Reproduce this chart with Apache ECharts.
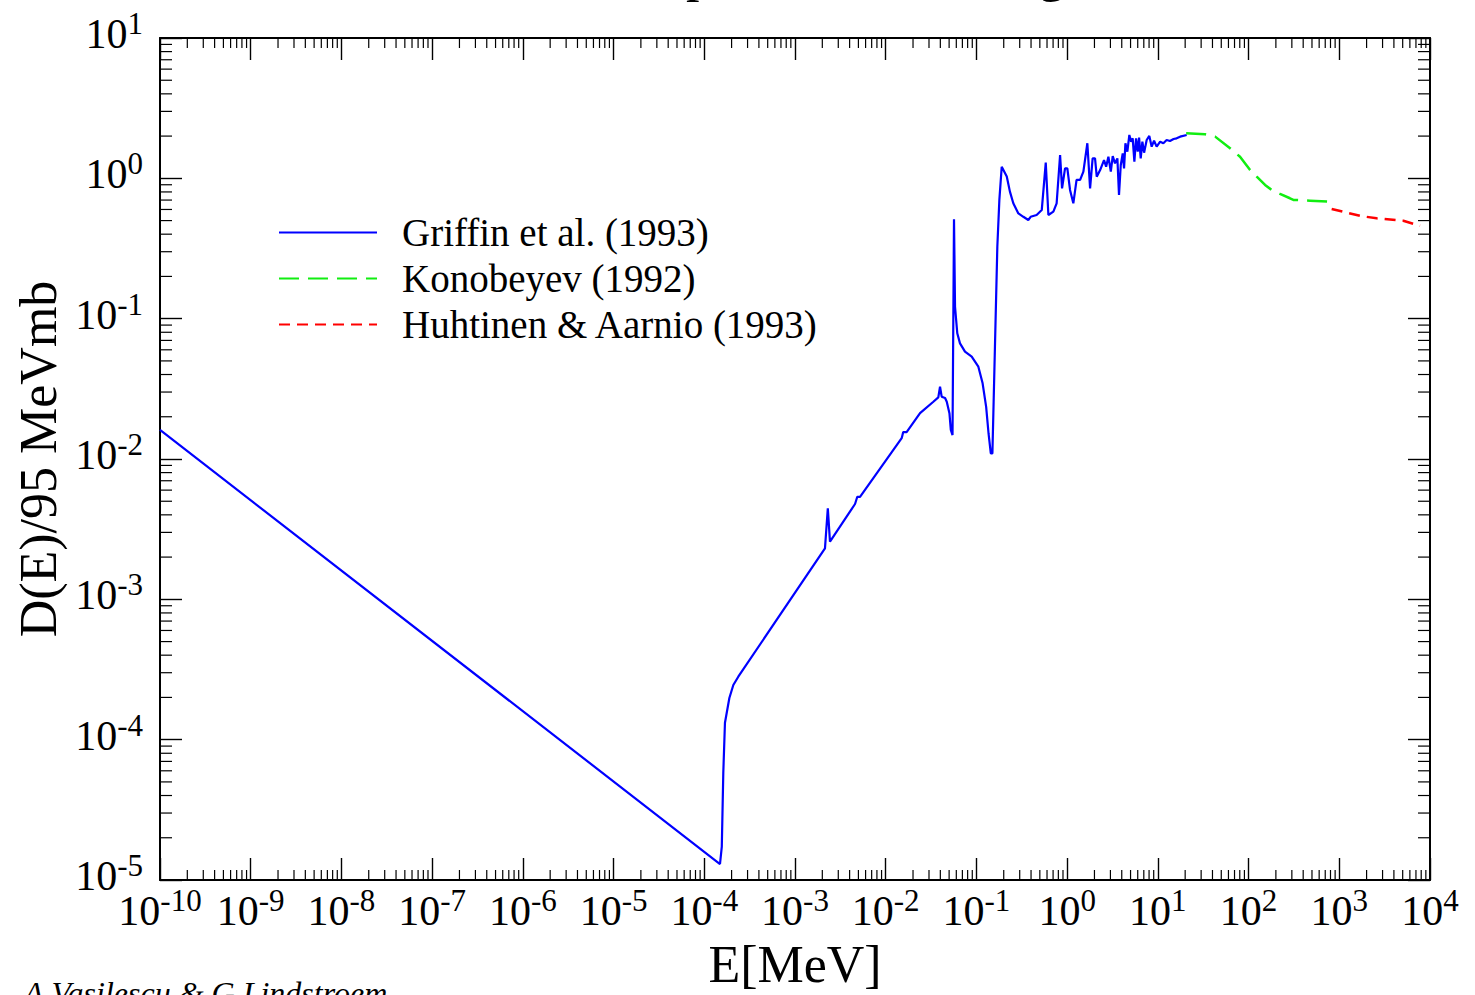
<!DOCTYPE html>
<html>
<head>
<meta charset="utf-8">
<script src="https://cdn.jsdelivr.net/npm/echarts/dist/echarts.min.js"></script>
<style>
html,body{margin:0;padding:0;background:#fff;}
#chart{width:1475px;height:995px;}
</style>
</head>
<body>
<div id="chart"></div>
<script>
// ---- data ----
const xTickExponents = [-10, -9, -8, -7, -6, -5, -4, -3, -2, -1, 0, 1, 2, 3, 4];
const yTickExponents = [-5, -4, -3, -2, -1, 0, 1];

const griffinE = [1e-10, 1.49e-4, 1.56e-4, 1.62e-4, 1.69e-4, 1.89e-4, 2.09e-4, 2.37e-4, 2.14e-3, 2.30e-3,
  2.43e-3, 4.59e-3, 4.86e-3, 5.21e-3, 0.0150, 0.0156, 0.0170, 0.0239, 0.0335, 0.0380,
  0.0397, 0.0414, 0.0451, 0.0471, 0.0504, 0.0522, 0.0545, 0.0566, 0.0581, 0.0615,
  0.0659, 0.0748, 0.0887, 0.105, 0.117, 0.128, 0.136, 0.144, 0.150, 0.160,
  0.170, 0.179, 0.190, 0.216, 0.234, 0.255, 0.290, 0.329, 0.373, 0.396,
  0.461, 0.525, 0.581, 0.621, 0.705, 0.766, 0.836, 0.879, 0.948, 1.005,
  1.076, 1.17, 1.27, 1.39, 1.51, 1.67, 1.79, 1.91, 2.03, 2.12,
  2.31, 2.55, 2.69, 2.85, 3.03, 3.18, 3.37, 3.58, 3.73, 3.90,
  4.10, 4.24, 4.39, 4.61, 4.85, 5.07, 5.28, 5.51, 5.75, 6.00,
  6.21, 6.47, 6.75, 7.05, 7.53, 8.05, 8.55, 9.08, 9.70, 10.6,
  11.5, 12.5, 13.6, 14.9, 16.1, 17.6, 20.8];
const griffinD = [0.0161, 1.30e-5, 1.73e-5, 5.78e-5, 1.32e-4, 1.98e-4, 2.45e-4, 2.81e-4, 2.31e-3, 4.46e-3,
  2.58e-3, 4.78e-3, 5.38e-3, 5.38e-3, 0.01406, 0.01556, 0.01556, 0.0212, 0.0256, 0.0275,
  0.0327, 0.0278, 0.0272, 0.0256, 0.0212, 0.0161, 0.0148, 0.511, 0.1216, 0.0787,
  0.0667, 0.0582, 0.0536, 0.0455, 0.0346, 0.0235, 0.0152, 0.01096, 0.01096, 0.0631,
  0.326, 0.702, 1.21, 1.03, 0.804, 0.664, 0.562, 0.532, 0.505, 0.532,
  0.548, 0.594, 1.294, 0.548, 0.579, 0.664, 1.466, 0.849, 1.178, 1.178,
  0.826, 0.664, 0.975, 0.975, 1.117, 1.778, 0.849, 1.387, 1.387, 1.028,
  1.146, 1.349, 1.211, 1.426, 1.117, 1.442, 1.279, 1.387, 0.760, 1.245,
  1.507, 1.178, 1.778, 1.549, 2.037, 1.824, 1.928, 1.315, 1.928, 1.549,
  1.950, 1.387, 1.824, 1.524, 1.875, 2.004, 1.682, 1.854, 1.682, 1.824,
  1.778, 1.875, 1.845, 1.905, 1.928, 1.982, 2.037];

const konobeyevE = [20.5, 33.1, 42.8, 62.5, 80.5, 104, 123, 152, 180, 222, 286, 312, 476, 759];
const konobeyevD = [2.094, 2.061, 1.982, 1.637, 1.426, 1.146, 1.028, 0.897, 0.826, 0.774, 0.721, 0.702, 0.693, 0.682];

const huhtinenE = [824, 1694, 2582, 5082, 7762];
const huhtinenD = [0.605, 0.540, 0.519, 0.499, 0.459];

const seriesNames = ['Griffin et al. (1993)', 'Konobeyev (1992)', 'Huhtinen & Aarnio (1993)'];

// minor tick positions (2..9 x 10^k) for the log axes
const xMinor = [], yMinor = [];
for (let k = xTickExponents[0]; k < xTickExponents[xTickExponents.length - 1]; k++)
  for (let m = 2; m <= 9; m++) xMinor.push([m * Math.pow(10, k), 1]);
for (let k = yTickExponents[0]; k < yTickExponents[yTickExponents.length - 1]; k++)
  for (let m = 2; m <= 9; m++) yMinor.push([1, m * Math.pow(10, k)]);

const zip = (a, b) => a.map((v, i) => [v, b[i]]);

const FONT = '"Liberation Serif", "Times New Roman", serif';
const supRich = {
  b: { fontFamily: FONT, fontSize: 42, lineHeight: 52, color: '#000' },
  s: { fontFamily: FONT, fontSize: 31, lineHeight: 31, verticalAlign: 'top', color: '#000' }
};
const powFmt = v => '{b|10}{s|' + v + '}';

function minorXTick(params, api) {
  const p = api.coord([api.value(0), api.value(1)]);
  const cs = params.coordSys;
  const x = p[0], yb = cs.y + cs.height, yt = cs.y;
  const st = { stroke: '#000', lineWidth: 1.2 };
  return { type: 'group', children: [
    { type: 'line', shape: { x1: x, y1: yb, x2: x, y2: yb - 10 }, style: st },
    { type: 'line', shape: { x1: x, y1: yt, x2: x, y2: yt + 10 }, style: st }
  ]};
}
function minorYTick(params, api) {
  const p = api.coord([api.value(0), api.value(1)]);
  const cs = params.coordSys;
  const y = p[1], xl = cs.x, xr = cs.x + cs.width;
  const st = { stroke: '#000', lineWidth: 1.2 };
  return { type: 'group', children: [
    { type: 'line', shape: { x1: xl, y1: y, x2: xl + 12, y2: y }, style: st },
    { type: 'line', shape: { x1: xr, y1: y, x2: xr - 12, y2: y }, style: st }
  ]};
}

const frameLine = { show: true, onZero: false, lineStyle: { color: '#000', width: 2 } };
const majorTick = { show: true, inside: true, length: 22, lineStyle: { color: '#000', width: 1.4 } };

const chart = echarts.init(document.getElementById('chart'), null, { renderer: 'svg' });
chart.setOption({
  backgroundColor: '#fff',
  animation: false,
  grid: { left: 160, right: 45, top: 38, bottom: 115, containLabel: false },
  legend: {
    data: seriesNames,
    orient: 'vertical',
    left: 273, top: 208,
    itemWidth: 98, itemHeight: 20, itemGap: 7,
    itemStyle: { opacity: 0, borderWidth: 0 },
    textStyle: { fontFamily: FONT, fontSize: 39, lineHeight: 39, color: '#000', padding: [0, 0, 0, 20] },
    selectedMode: false
  },
  xAxis: [
    { type: 'log', logBase: 10, min: 1e-10, max: 1e4, position: 'bottom',
      axisLine: { show: false }, axisTick: { show: false }, axisLabel: { show: false }, splitLine: { show: false } },
    { type: 'value', min: xTickExponents[0], max: xTickExponents[xTickExponents.length - 1], interval: 1,
      position: 'bottom', axisLine: frameLine, axisTick: majorTick, splitLine: { show: false },
      axisLabel: { show: true, margin: 5, formatter: powFmt, rich: supRich, showMinLabel: true, showMaxLabel: true },
      name: 'E[MeV]', nameLocation: 'middle', nameGap: 58,
      nameTextStyle: { fontFamily: FONT, fontSize: 52, color: '#000' } },
    { type: 'value', min: xTickExponents[0], max: xTickExponents[xTickExponents.length - 1], interval: 1,
      position: 'top', axisLine: frameLine, axisTick: majorTick, splitLine: { show: false },
      axisLabel: { show: false } }
  ],
  yAxis: [
    { type: 'log', logBase: 10, min: 1e-5, max: 10, position: 'left',
      axisLine: { show: false }, axisTick: { show: false }, axisLabel: { show: false }, splitLine: { show: false } },
    { type: 'value', min: yTickExponents[0], max: yTickExponents[yTickExponents.length - 1], interval: 1,
      position: 'left', axisLine: frameLine, axisTick: majorTick, splitLine: { show: false },
      axisLabel: { show: true, margin: 17, formatter: powFmt, rich: supRich, padding: [0, 0, 8, 0],
        showMinLabel: true, showMaxLabel: true },
      name: 'D(E)/95 MeVmb', nameLocation: 'middle', nameGap: 90, nameRotate: 90,
      nameTextStyle: { fontFamily: FONT, fontSize: 52, color: '#000' } },
    { type: 'value', min: yTickExponents[0], max: yTickExponents[yTickExponents.length - 1], interval: 1,
      position: 'right', axisLine: frameLine, axisTick: majorTick, splitLine: { show: false },
      axisLabel: { show: false } }
  ],
  series: [
    { name: seriesNames[0], type: 'line', xAxisIndex: 0, yAxisIndex: 0, data: zip(griffinE, griffinD),
      showSymbol: false, symbol: 'none', lineStyle: { color: '#0000ff', width: 2.2 }, itemStyle: { color: '#0000ff' } },
    { name: seriesNames[1], type: 'line', xAxisIndex: 0, yAxisIndex: 0, data: zip(konobeyevE, konobeyevD),
      showSymbol: false, symbol: 'none', lineStyle: { color: '#11ee11', width: 2.5, type: [20, 9] }, itemStyle: { color: '#11ee11' } },
    { name: seriesNames[2], type: 'line', xAxisIndex: 0, yAxisIndex: 0, data: zip(huhtinenE, huhtinenD),
      showSymbol: false, symbol: 'none', lineStyle: { color: '#ff0000', width: 2.5, type: [11, 7] }, itemStyle: { color: '#ff0000' } },
    { type: 'custom', xAxisIndex: 0, yAxisIndex: 0, data: xMinor, renderItem: minorXTick, silent: true, clip: false, z: 5 },
    { type: 'custom', xAxisIndex: 0, yAxisIndex: 0, data: yMinor, renderItem: minorYTick, silent: true, clip: false, z: 5 }
  ],
  graphic: [
    { type: 'text', x: 611, y: -55, silent: true,
      style: { text: 'Displacement damage in Silicon', fontFamily: FONT, fontSize: 54, fill: '#000', verticalAlign: 'top' } },
    { type: 'text', x: 24, y: 977, silent: true,
      style: { text: 'A.Vasilescu & G.Lindstroem', fontFamily: FONT, fontStyle: 'italic', fontSize: 32, fill: '#000', verticalAlign: 'top' } }
  ]
});
</script>
</body>
</html>
